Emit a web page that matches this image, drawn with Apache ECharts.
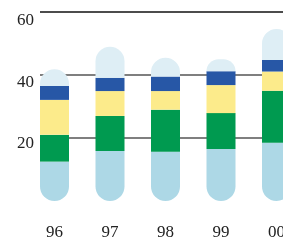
<!DOCTYPE html>
<html>
<head>
<meta charset="utf-8">
<script src="https://cdn.jsdelivr.net/npm/echarts@6/dist/echarts.min.js"></script>
<style>html,body{margin:0;padding:0;background:#fff;}#c{width:283px;height:240px;}</style>
</head>
<body>
<div id="c"></div>
<script>
const categories = ['96', '97', '98', '99', '00'];
const lightBlue = [12.5, 15.9, 15.6, 16.5, 18.5];
const green = [8.5, 11.1, 13.4, 11.4, 16.5];
const yellow = [11.1, 7.9, 5.9, 8.9, 6.1];
const darkBlue = [4.4, 4.2, 4.6, 4.4, 3.7];
const topCap = [5.3, 9.9, 6.0, 3.8, 9.8];
const yTicks = [0, 20, 40, 60];

const chart = echarts.init(document.getElementById('c'), null, {renderer: 'canvas'});
const font = "'Liberation Serif', 'DejaVu Serif', serif";
const R = 14.5;
function seg(name, data, color, radius) {
  return {
    name, type: 'bar', stack: 'a', data, barWidth: 29,
    xAxisIndex: 0, yAxisIndex: 0,
    itemStyle: {color, borderRadius: radius},
    silent: true
  };
}
chart.setOption({
  animation: false,
  grid: [
    {left: 26.75, width: 277.5, top: 12, bottom: 39, outerBoundsMode: 'none', containLabel: false},
    {left: 40, right: 0, top: 12, bottom: 39, outerBoundsMode: 'none', containLabel: false},
    {left: 34, width: 1, top: 21, bottom: 34.5, outerBoundsMode: 'none', containLabel: false}
  ],
  xAxis: [
    {type: 'category', gridIndex: 0, data: categories, boundaryGap: true,
     axisLine: {show: false}, axisTick: {show: false},
     axisLabel: {interval: 0, margin: 23, fontFamily: font, fontSize: 17, color: '#222'}},
    {type: 'value', gridIndex: 1, show: false, min: 0, max: 1},
    {type: 'value', gridIndex: 2, show: false, min: 0, max: 1}
  ],
  yAxis: [
    {type: 'value', gridIndex: 0, min: 0, max: 60, interval: 20, show: false},
    {type: 'value', gridIndex: 1, min: 0, max: 60, interval: 20,
     axisLine: {show: false}, axisTick: {show: false}, axisLabel: {show: false},
     splitLine: {show: true, lineStyle: {color: ['rgba(0,0,0,0)', '#555', '#555', '#111'], width: 1.5}}},
    {type: 'value', gridIndex: 2, min: 0, max: 60, interval: 20,
     axisLine: {show: false}, axisTick: {show: false}, splitLine: {show: false},
     axisLabel: {margin: 0, fontFamily: font, fontSize: 17, color: '#222',
       formatter: v => (yTicks.indexOf(v) > 0 ? String(v) : '')}}
  ],
  series: [
    seg('a', lightBlue, '#add8e6', [0, 0, R, R]),
    seg('b', green, '#009a50', 0),
    seg('c', yellow, '#fceb8b', 0),
    seg('d', darkBlue, '#2757a6', 0),
    seg('e', topCap, '#deeef5', [R, R, 0, 0])
  ]
});
</script>
</body>
</html>
